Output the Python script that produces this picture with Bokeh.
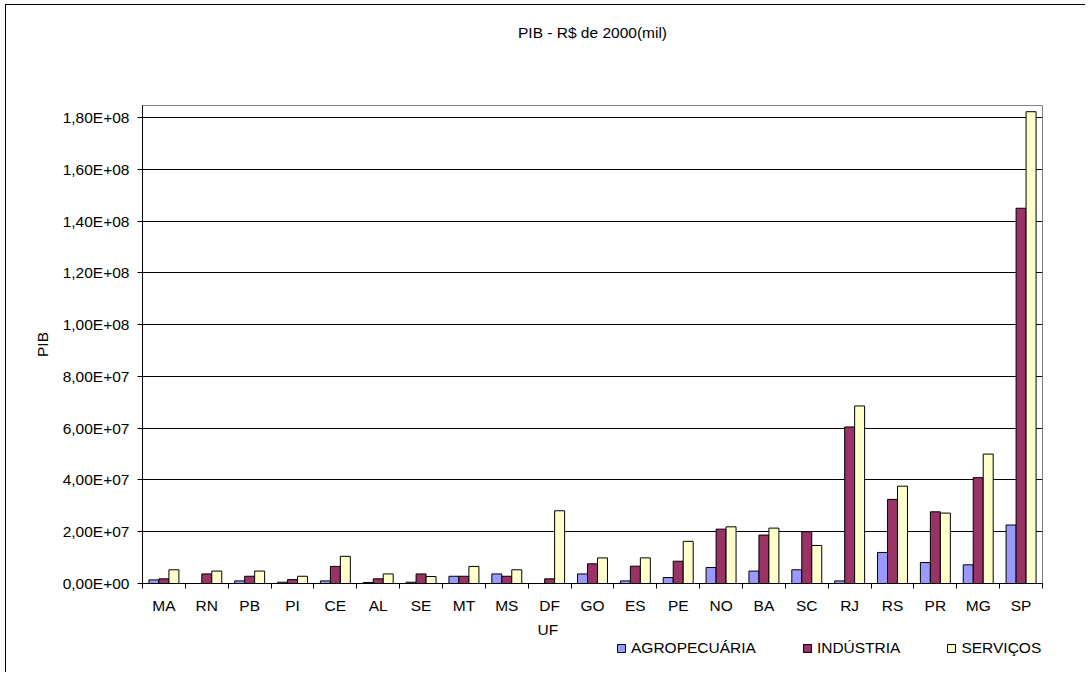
from bokeh.plotting import figure
from bokeh.models import Range1d, FixedTicker, Legend, LegendItem, Title
from bokeh.layouts import column
from bokeh.embed import file_html
from bokeh.resources import INLINE

# ---- data ----
ufs = ["MA", "RN", "PB", "PI", "CE", "AL", "SE", "MT", "MS", "DF", "GO",
       "ES", "PE", "NO", "BA", "SC", "RJ", "RS", "PR", "MG", "SP"]
agropecuaria = [1.4e6, 0.0, 1.0e6, 0.5e6, 1.0e6, 0.4e6, 0.5e6, 2.8e6, 3.7e6, 0.0, 3.7e6,
                1.0e6, 2.3e6, 6.2e6, 4.8e6, 5.3e6, 1.0e6, 12.0e6, 8.1e6, 7.2e6, 22.6e6]
industria = [1.8e6, 3.7e6, 2.8e6, 1.5e6, 6.6e6, 1.8e6, 3.7e6, 2.8e6, 2.8e6, 1.8e6, 7.6e6,
             6.7e6, 8.6e6, 21.0e6, 18.7e6, 20.0e6, 60.5e6, 32.5e6, 27.7e6, 40.9e6, 145.0e6]
servicos = [5.3e6, 4.8e6, 4.8e6, 2.8e6, 10.5e6, 3.7e6, 2.7e6, 6.6e6, 5.3e6, 28.1e6, 9.9e6,
            9.9e6, 16.3e6, 21.9e6, 21.4e6, 14.7e6, 68.6e6, 37.6e6, 27.2e6, 50.0e6, 182.3e6]
series_names = ["AGROPECUÁRIA", "INDÚSTRIA", "SERVIÇOS"]
series_colors = ["#9999FF", "#993366", "#FFFFCC"]
y_ticks = [0, 20000000, 40000000, 60000000, 80000000, 100000000,
           120000000, 140000000, 160000000, 180000000]
y_tick_labels = ["0,00E+00", "2,00E+07", "4,00E+07", "6,00E+07", "8,00E+07",
                 "1,00E+08", "1,20E+08", "1,40E+08", "1,60E+08", "1,80E+08"]
title_text = "PIB - R$ de 2000(mil)"
x_title = "UF"
y_title = "PIB"

FONT = "Liberation Sans"
FS = "15.5px"

n = len(ufs)
series = [agropecuaria, industria, servicos]
bw = 0.233
offsets = [-bw, 0.0, bw]

TOP_H = 634
p = figure(width=1080, height=TOP_H, output_backend="svg", toolbar_location=None,
           x_range=Range1d(0, n), y_range=Range1d(0, 1.847e8),
           min_border_left=136, min_border_right=44, min_border_top=100,
           min_border_bottom=56, background_fill_color="white",
           border_fill_color="white")

p.title.text = title_text
p.title.align = "center"
p.title.text_font = FONT
p.title.text_font_size = FS
p.title.text_font_style = "normal"
p.title.text_color = "black"
p.title.standoff = 0
p.title.padding = (0, 0, 0, 65)

for vals, off, col in zip(series, offsets, series_colors):
    xs = [i + 0.5 + off for i in range(n)]
    p.vbar(x=xs, top=vals, bottom=0, width=bw, fill_color=col,
           line_color="black", line_width=1)

p.outline_line_color = "#808080"
p.xgrid.grid_line_color = None
p.ygrid.grid_line_color = "black"
p.ygrid.grid_line_width = 1
p.ygrid.ticker = FixedTicker(ticks=y_ticks)

# y axis
ya = p.yaxis[0]
ya.ticker = FixedTicker(ticks=y_ticks)
ya.major_label_overrides = {t: l for t, l in zip(y_ticks, y_tick_labels)}
ya.major_tick_out = 5
ya.major_tick_in = 0
ya.minor_tick_out = 0
ya.minor_tick_in = 0
ya.major_label_standoff = 8
ya.axis_line_color = "black"
ya.major_label_text_font = FONT
ya.major_label_text_font_size = FS
ya.major_label_text_color = "black"
ya.axis_label = y_title
ya.axis_label_text_font = FONT
ya.axis_label_text_font_size = FS
ya.axis_label_text_font_style = "normal"
ya.axis_label_text_color = "black"
ya.axis_label_standoff = 9

# x axis
xa = p.xaxis[0]
xa.ticker = FixedTicker(ticks=[i + 0.5 for i in range(n)],
                        minor_ticks=list(range(n + 1)))
xa.major_label_overrides = {i + 0.5: u for i, u in enumerate(ufs)}
xa.major_tick_out = 0
xa.major_tick_in = 0
xa.minor_tick_out = 5
xa.minor_tick_in = 0
xa.minor_tick_line_color = "black"
xa.axis_line_color = "black"
xa.major_label_standoff = 8
xa.major_label_text_font = FONT
xa.major_label_text_font_size = FS
xa.major_label_text_color = "black"
xa.axis_label = None

uf_title = Title(text=x_title, align="left", offset=395, text_font=FONT,
                 text_font_size=FS, text_font_style="normal", text_color="black",
                 standoff=0, padding=(0, 0, 2, 0))
p.add_layout(uf_title, "below")

# ---- legend strip below the chart (same series, hidden renderers) ----
BOT_H = 668 - TOP_H
q = figure(width=1080, height=BOT_H, output_backend="svg", toolbar_location=None,
           x_range=Range1d(0, n), y_range=Range1d(0, 1.847e8),
           x_axis_location=None, y_axis_location=None,
           min_border_left=136, min_border_right=10, min_border_top=0,
           min_border_bottom=0, background_fill_color="white",
           border_fill_color="white", outline_line_color=None)
q.xgrid.grid_line_color = None
q.ygrid.grid_line_color = None
legend_renderers = []
for vals, off, col in zip(series, offsets, series_colors):
    xs = [i + 0.5 + off for i in range(n)]
    legend_renderers.append(q.vbar(x=xs, top=vals, bottom=0, width=bw,
                                   fill_color=col, line_color="black",
                                   line_width=1, visible=False))
legend = Legend(items=[LegendItem(label=nm, renderers=[r])
                       for nm, r in zip(series_names, legend_renderers)],
                orientation="horizontal", location=(474, BOT_H - 18),
                border_line_color=None, background_fill_alpha=0,
                inactive_fill_alpha=0,
                label_text_font=FONT, label_text_font_size=FS,
                label_text_color="black",
                glyph_width=10, glyph_height=10, label_standoff=5,
                spacing=46, padding=0, margin=0, label_height=14)
q.add_layout(legend)

layout = column(p, q, spacing=0)
layout.styles = {"margin-left": "6px", "margin-top": "5px",
                 "box-shadow": "-1px -1px 0px 0px black"}
open("out.html", "w").write(file_html(layout, INLINE))
